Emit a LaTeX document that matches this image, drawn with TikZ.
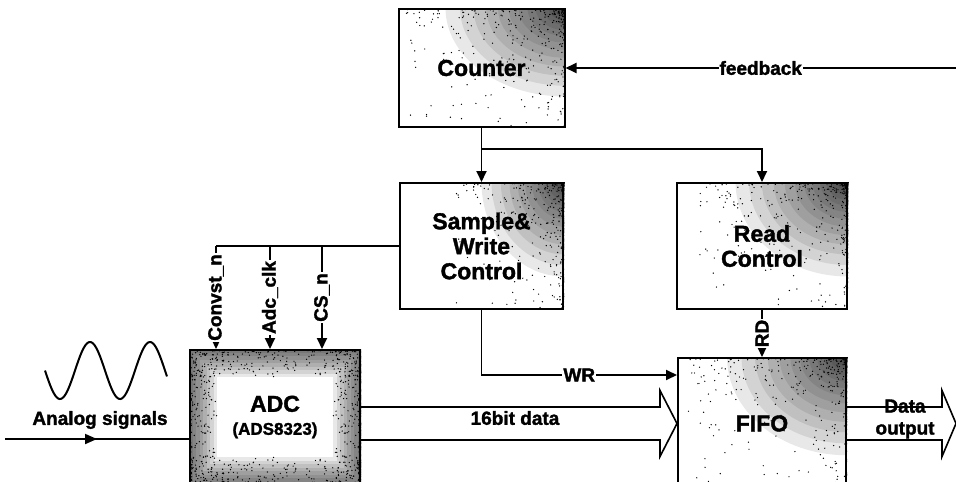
\documentclass[tikz,border=0pt]{standalone}
\usepackage{fontspec}
\setmainfont{Liberation Sans}[BoldFeatures={FakeBold=1.6}]
\usetikzlibrary{arrows.meta, positioning, decorations.markings, backgrounds}
\newcommand{\speckcorner}[3]{%
  \begin{scope}[on background layer]
  \begin{scope}
    \clip (#1.south west) rectangle (#1.north east);
    \foreach \s in {1,...,16}{
      \pgfmathsetmacro\rx{0.75*#2*(\s/16)^2}
      \pgfmathsetmacro\ry{0.75*#3*(\s/16)^2}
      \fill[black, opacity=0.09] (#1.north east) ellipse [x radius=\rx pt, y radius=\ry pt];
    }
    \foreach \k in {1,...,600}{
      \pgfmathsetmacro\ru{rnd}
      \pgfmathsetmacro\rv{rnd}
      \fill[black] (#1.north east) ++({-#2*\ru*\ru*\ru*\ru},{#3*\rv*\rv*\rv*\rv})
        circle[radius=0.7pt];
    }
  \end{scope}
  \end{scope}}
\newcommand{\speckframe}[3]{%
  \begin{scope}[on background layer]
  \begin{scope}
    \clip (#1.south west) rectangle (#1.north east);
    \foreach \i in {1,...,8}{
      \pgfmathsetmacro\lw{7*\i}
      \draw[black, opacity=0.09, line width=\lw pt] (#1.south west) rectangle (#1.north east);
    }
    \foreach \k in {1,...,300}{
      \pgfmathsetmacro\rt{rnd}
      \pgfmathsetmacro\rd{rnd}
      \pgfmathsetmacro\dd{28*\rd*\rd*\rd}
      \fill[black] (#1.north west) ++({\rt*#2},{\dd}) circle[radius=0.7pt];
      \fill[black] (#1.south west) ++({\rt*#2},{-\dd}) circle[radius=0.7pt];
      \fill[black] (#1.north west) ++({\dd},{\rt*#3}) circle[radius=0.7pt];
      \fill[black] (#1.north east) ++({-\dd},{\rt*#3}) circle[radius=0.7pt];
    }
  \end{scope}
  \end{scope}}
\tikzset{
  blk/.style={draw, line width=2pt, align=center,
    font=\fontsize{23}{25}\selectfont\bfseries},
  sig/.style={line width=1.9pt, -{Triangle[length=11pt,width=10pt]}},
  lbl/.style={fill=white, inner sep=1pt, font=\fontsize{19}{21}\selectfont\bfseries},
  txt/.style={inner sep=0pt, align=center, font=\fontsize{19}{22}\selectfont\bfseries},
  bus/.style={line width=1.6pt},
  midarrow/.style={postaction={decorate}, decoration={markings,
    mark=at position 0.5 with {\arrow{Triangle[length=12pt,width=10pt]}}}}
}
\begin{document}
\begin{tikzpicture}[x=1pt, y=-1pt]
  \useasboundingbox (0,0) rectangle (956,482);
  \clip (0,0) rectangle (956,482);
  \pgfmathsetseed{4711}

  \node[blk, minimum width=166pt, minimum height=118pt]
    (counter) at (481.5,68) {Counter};
  \node[blk, minimum width=163pt, minimum height=126pt,
        below=54pt of counter] (swc) {Sample\&\\Write\\Control};
  \node[blk, minimum width=170pt, minimum height=126pt,
        right=112pt of swc] (rdc) {Read\\Control};
  \node[blk, minimum width=168pt, minimum height=131pt,
        below=47pt of rdc] (fifo) {FIFO};
  \node[blk, minimum width=170pt, minimum height=134pt]
    (adc) at (275,417) {ADC\\[-2pt]{\fontsize{17}{19}\selectfont(ADS8323)}};
  \speckcorner{counter}{160}{118}
  \speckcorner{swc}{110}{126}
  \speckcorner{rdc}{150}{126}
  \speckcorner{fifo}{160}{131}
  \speckframe{adc}{170}{134}

  \coordinate (fb) at (956,68);
  \draw[sig] (fb) -- node[lbl]{feedback} (counter.east);
  \draw[sig] (counter) -- (swc);
  \draw[sig] (counter.south) ++(0,21) -| (rdc.north);

  \coordinate (cv) at ([xshift=27pt]adc.north west);
  \coordinate (ck) at ([xshift=81pt]adc.north west);
  \coordinate (cs) at ([xshift=133pt]adc.north west);
  \draw[line width=1.9pt] (swc.west) -- (swc.west -| cv);
  \draw[sig] (swc.west -| cv) -- node[lbl, rotate=90]{Convst\_n} (cv);
  \draw[sig] (swc.west -| ck) -- node[lbl, rotate=90]{Adc\_clk} (ck);
  \draw[sig] (swc.west -| cs) -- node[lbl, rotate=90]{CS\_n} (cs);

  \coordinate (wr) at ([yshift=-18pt]fifo.north west);
  \draw[sig] (swc.south) |- node[lbl, pos=0.75]{WR} (wr);
  \draw[sig] (rdc) -- node[lbl, rotate=90]{RD} (rdc |- fifo.north);

  \draw[line width=2pt] plot[domain=45:167, samples=100, smooth]
    (\x, {370.5+28.5*sin(6*(\x-45))});
  \node[txt] (asig) at (100,420) {Analog signals};
  \coordinate (ain) at (5,439);
  \draw[line width=1.9pt, midarrow] (ain) -- (ain -| adc.west);

  \draw[bus] (fifo.west) ++(-317,-16.5) -- ++(300,0) -- ++(0,-16.5) -- (fifo.west)
    -- ++(-17,33) -- ++(0,-16.5) -- ++(-300,0);
  \node[txt] (bits) at (515,418) {16bit data};
  \draw[bus] (fifo.east) ++(0,-16.5) -- ++(95,0) -- ++(0,-16.5) -- ++(14,33)
    -- ++(-14,33) -- ++(0,-16.5) -- ++(-95,0);
  \node[txt] (dout) at (905,419) {Data\\output};
\end{tikzpicture}
\end{document}
